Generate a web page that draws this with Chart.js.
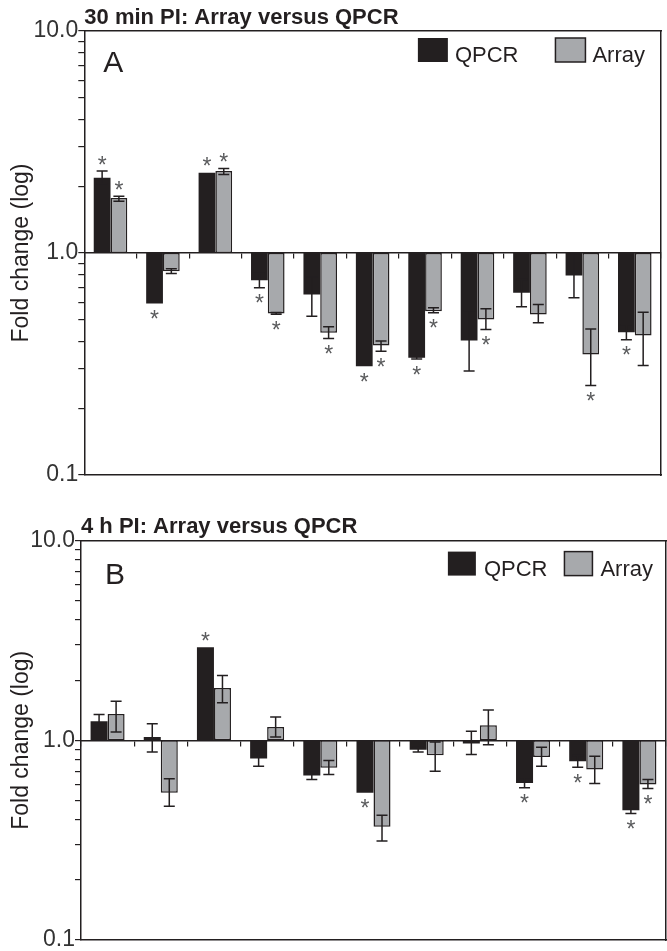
<!DOCTYPE html>
<html><head><meta charset="utf-8">
<script src="https://cdn.jsdelivr.net/npm/chart.js@4.4.1/dist/chart.umd.min.js"></script>
<style>
html,body{margin:0;padding:0;background:#fff;overflow:hidden;width:667px;height:951px;}
#wrapA{position:absolute;left:0;top:0;width:667px;height:490px;}
#wrapB{position:absolute;left:0;top:490px;width:667px;height:480px;}
</style></head><body>
<div id="wrapA"><canvas id="chartA"></canvas></div>
<div id="wrapB"><canvas id="chartB"></canvas></div>
<script>
// ---------- data ----------
const categories = ['G1','G2','G3','G4','G5','G6','G7','G8','G9','G10','G11'];
const seriesNames = ['QPCR','Array'];
const yTickValues = [0.1,0.2,0.3,0.4,0.5,0.6,0.7,0.8,0.9,1,2,3,4,5,6,7,8,9,10];
const yMajorTicks = [0.1, 1, 10];
const yMajorLabels = ['0.1','1.0','10.0'];

const titleA = '30 min PI: Array versus QPCR';
const letterA = 'A';
const qpcrA      = [2.18, 0.592, 2.30, 0.754, 0.650, 0.309, 0.337, 0.404, 0.662, 0.792, 0.440];
const qpcrLowA   = [2.05, null, null, 0.697, 0.519, null, 0.333, 0.294, 0.572, 0.628, 0.407];
const qpcrHighA  = [2.34, null, null, 0.81, 0.78, null, 0.341, 0.55, 0.76, 0.99, 0.475];
const qpcrStarA  = [1,1,1,1,0,1,1,0,0,0,1];
const arrayA     = [1.77, 0.828, 2.34, 0.534, 0.437, 0.383, 0.547, 0.502, 0.528, 0.349, 0.425];
const arrayLowA  = [1.71, 0.808, 2.26, 0.53, 0.412, 0.361, 0.538, 0.452, 0.485, 0.253, 0.311];
const arrayHighA = [1.80, 0.85, 2.40, 0.54, 0.465, 0.401, 0.566, 0.561, 0.586, 0.455, 0.541];
const arrayStarA = [1,0,1,1,1,1,1,1,0,1,0];

const titleB = '4 h PI: Array versus QPCR';
const letterB = 'B';
const qpcrB      = [1.245, 1.04, 2.92, 0.81, 0.666, 0.546, 0.898, 0.963, 0.612, 0.785, 0.447];
const qpcrLowB   = [1.15, 0.875, null, 0.741, 0.636, null, 0.875, 0.848, 0.578, 0.733, 0.43];
const qpcrHighB  = [1.345, 1.21, null, 0.88, 0.69, null, 0.92, 1.11, 0.65, 0.84, 0.46];
const qpcrStarB  = [0,0,1,0,0,1,0,0,1,1,1];
const arrayB     = [1.355, 0.546, 1.83, 1.167, 0.728, 0.369, 0.842, 1.19, 0.826, 0.714, 0.60];
const arrayLowB  = [1.10, 0.468, 1.54, 1.04, 0.674, 0.313, 0.70, 0.95, 0.741, 0.607, 0.573];
const arrayHighB = [1.567, 0.641, 2.11, 1.31, 0.792, 0.422, 0.98, 1.42, 0.923, 0.832, 0.636];
const arrayStarB = [0,0,0,0,0,0,0,0,0,0,1];

// ---------- styling ----------
const INK = '#231f20';
const GRAY = '#a7a9ac';
const FONT = "'Liberation Sans', Arial, Helvetica, sans-serif";
Chart.defaults.font.family = FONT;
Chart.defaults.color = INK;

const errorStarPlugin = {
  id: 'errorStar',
  afterDatasetsDraw(chart, args, opts) {
    const ctx = chart.ctx;
    const ys = chart.scales.y;
    chart.data.datasets.forEach((ds, i) => {
      const meta = chart.getDatasetMeta(i);
      meta.data.forEach((bar, j) => {
        const x = bar.x;
        const lo = ds.errLow[j], hi = ds.errHigh[j];
        if (lo != null && hi != null) {
          const yl = ys.getPixelForValue(lo), yh = ys.getPixelForValue(hi);
          ctx.save();
          ctx.strokeStyle = INK; ctx.lineWidth = opts.lineWidth;
          ctx.beginPath();
          ctx.moveTo(x, yl); ctx.lineTo(x, yh);
          ctx.moveTo(x - opts.cap, yl); ctx.lineTo(x + opts.cap, yl);
          ctx.moveTo(x - opts.cap, yh); ctx.lineTo(x + opts.cap, yh);
          ctx.stroke();
          ctx.restore();
        }
        if (ds.stars[j]) {
          const v = ds.data[j][1];
          let yc;
          if (v >= 1) {
            let top = ys.getPixelForValue(v);
            if (hi != null) top = Math.min(top, ys.getPixelForValue(hi));
            yc = top - opts.starGap;
          } else {
            let bot = ys.getPixelForValue(v);
            if (lo != null) bot = Math.max(bot, ys.getPixelForValue(lo));
            yc = bot + opts.starGap;
          }
          ctx.save();
          ctx.font = opts.starSize + 'px ' + FONT;
          ctx.fillStyle = opts.starColor;
          ctx.textAlign = 'center';
          ctx.textBaseline = 'alphabetic';
          const m = ctx.measureText('*');
          const base = yc + (m.actualBoundingBoxAscent - m.actualBoundingBoxDescent) / 2;
          ctx.fillText('*', x, base);
          ctx.restore();
        }
      });
    });
  }
};

const panelDecorPlugin = {
  id: 'panelDecor',
  afterDraw(chart, args, opts) {
    const ctx = chart.ctx;
    const ca = chart.chartArea;
    ctx.save();
    ctx.font = opts.letterSize + 'px ' + FONT;
    ctx.fillStyle = INK;
    ctx.textAlign = 'left';
    ctx.textBaseline = 'alphabetic';
    ctx.fillText(opts.letter, ca.left + opts.letterDx, ca.top + opts.letterDy);
    ctx.font = opts.legendSize + 'px ' + FONT;
    let cursor = ca.right - opts.legendRight;
    const boxTop = ca.top + opts.legendTop;
    const dss = chart.data.datasets;
    for (let k = dss.length - 1; k >= 0; k--) {
      const ds = dss[k];
      const tw = ctx.measureText(ds.label).width;
      const tx = cursor - tw;
      ctx.fillStyle = INK;
      ctx.fillText(ds.label, tx, boxTop + opts.boxH);
      const bx = tx - opts.textGap - opts.boxW;
      ctx.fillStyle = ds.backgroundColor;
      ctx.fillRect(bx, boxTop, opts.boxW, opts.boxH);
      if (ds.borderWidth) {
        ctx.strokeStyle = ds.borderColor;
        ctx.lineWidth = ds.borderWidth;
        ctx.strokeRect(bx, boxTop, opts.boxW, opts.boxH);
      }
      cursor = bx - opts.itemGap;
    }
    ctx.restore();
  }
};

function labelFor(v) {
  for (let k = 0; k < yMajorTicks.length; k++) {
    if (Math.abs(v - yMajorTicks[k]) < 1e-9) return yMajorLabels[k];
  }
  return '';
}

function makeChart(id, p) {
  const frameAxis = (type, position) => ({
    type, position, display: true,
    min: type === 'linear' ? 0 : undefined, max: type === 'linear' ? 1 : undefined,
    ticks: {display: false},
    grid: {display: false, drawTicks: false},
    border: {display: true, color: INK, width: 1.5},
    afterFit(s) { if (position === 'left' || position === 'right') s.width = 0; else s.height = 0; }
  });
  return new Chart(document.getElementById(id), {
    type: 'bar',
    data: {
      labels: categories,
      datasets: [
        {label: seriesNames[0], data: p.qpcr.map(v => [1, v]), xAxisID: 'x', yAxisID: 'y',
         backgroundColor: INK, borderColor: INK, borderWidth: 0,
         errLow: p.qpcrLow, errHigh: p.qpcrHigh, stars: p.qpcrStar},
        {label: seriesNames[1], data: p.array.map(v => [1, v]), xAxisID: 'x', yAxisID: 'y',
         backgroundColor: GRAY, borderColor: INK, borderWidth: 1.5, borderSkipped: false,
         errLow: p.arrayLow, errHigh: p.arrayHigh, stars: p.arrayStar}
      ]
    },
    options: {
      responsive: true, maintainAspectRatio: false, animation: false,
      layout: {padding: p.padding},
      categoryPercentage: 0.64, barPercentage: 1,
      plugins: {
        legend: {display: false},
        tooltip: {enabled: false},
        title: {display: true, text: p.title, align: 'start', fullSize: false, color: INK,
                font: {size: 22, weight: 'bold', family: FONT}, padding: {top: p.titlePadTop, bottom: 0}},
        errorStar: {lineWidth: 1.5, cap: 5.5, starGap: 11, starSize: 23, starColor: '#5a5b5d'},
        panelDecor: p.decor
      },
      scales: {
        y: {
          type: 'logarithmic', position: 'left', min: 0.1, max: 10,
          afterBuildTicks(s) { s.ticks = yTickValues.map(v => ({value: v, major: yMajorTicks.includes(v)})); },
          ticks: {autoSkip: false, padding: 0, color: '#333', font: {size: 23, family: FONT},
                  callback: (v) => labelFor(v)},
          grid: {display: true, drawOnChartArea: false, drawTicks: true, tickLength: 6, color: INK, lineWidth: 1.2},
          border: {display: true, color: INK, width: 1.5},
          title: {display: true, text: 'Fold change (log)', color: INK, font: {size: 23, family: FONT}, padding: {top: 8, bottom: 0}},
          afterFit(s) { s.width = p.yWidth; }
        },
        x: {
          type: 'category', position: {y: 1},
          ticks: {display: false},
          grid: {display: true, drawOnChartArea: false, drawTicks: true, tickLength: 5, color: INK, lineWidth: 1.2, offset: true},
          border: {display: true, color: INK, width: 1.5},
          afterFit(s) { s.height = 0; }
        },
        xTop: frameAxis('category', 'top'),
        xBottom: frameAxis('category', 'bottom'),
        yRight: frameAxis('linear', 'right')
      }
    },
    plugins: [errorStarPlugin, panelDecorPlugin]
  });
}

makeChart('chartA', {
  title: titleA, qpcr: qpcrA, qpcrLow: qpcrLowA, qpcrHigh: qpcrHighA, qpcrStar: qpcrStarA,
  array: arrayA, arrayLow: arrayLowA, arrayHigh: arrayHighA, arrayStar: arrayStarA,
  padding: {left: 0, right: 6, top: 0, bottom: 15}, yWidth: 84.3, titlePadTop: 4.6,
  decor: {letter: letterA, letterSize: 30, letterDx: 19, letterDy: 41,
          legendSize: 22, legendRight: 16, legendTop: 7, boxW: 30, boxH: 24, textGap: 7, itemGap: 37}
});
makeChart('chartB', {
  title: titleB, qpcr: qpcrB, qpcrLow: qpcrLowB, qpcrHigh: qpcrHighB, qpcrStar: qpcrStarB,
  array: arrayB, arrayLow: arrayLowB, arrayHigh: arrayHighB, arrayStar: arrayStarB,
  padding: {left: 0, right: 1, top: 0, bottom: 30}, yWidth: 81, titlePadTop: 24.2,
  decor: {letter: letterB, letterSize: 30, letterDx: 24, letterDy: 43,
          legendSize: 22, legendRight: 13, legendTop: 11, boxW: 28, boxH: 24, textGap: 8, itemGap: 17}
});
</script>
</body></html>
